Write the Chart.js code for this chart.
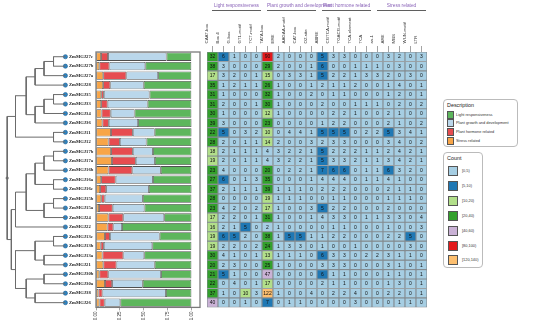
<!DOCTYPE html>
<html><head><meta charset="utf-8">
<script src="https://cdn.jsdelivr.net/npm/chart.js@4.4.0/dist/chart.umd.min.js"></script>
<style>
html,body{margin:0;padding:0;background:#fff;}
#wrap{position:relative;width:550px;height:328px;overflow:hidden;font-family:Arial,"Liberation Sans",sans-serif;}
canvas{position:absolute;top:0;}
.grp{position:absolute;top:3px;color:#8a63b8;font-size:4.8px;line-height:5px;text-align:center;white-space:nowrap;}
.gline{position:absolute;top:9.5px;height:1.5px;background:#5f5f5f;}
.lg{position:absolute;border:0.8px solid #bbb;border-radius:4px;background:#fff;box-sizing:border-box;}
.lgt{position:absolute;font-size:5.4px;color:#222;white-space:nowrap;}
.sw{position:absolute;box-sizing:border-box;border:0.6px solid #555;}
.lbl{position:absolute;font-size:3.9px;color:#333;white-space:nowrap;line-height:4px;}
</style></head>
<body><div id="wrap">
<canvas id="tree" width="70" height="328" style="left:0px;width:70px;height:328px"></canvas>
<canvas id="bars" width="133" height="328" style="left:69px;width:133px;height:328px"></canvas>
<canvas id="heat" width="235" height="328" style="left:200px;width:235px;height:328px"></canvas>
</div>
<script>
const genes = ['ZmMGJ27c','ZmMGJ27b','ZmMGJ27a','ZmMGJ28','ZmMGJ35','ZmMGJ33','ZmMGJ34','ZmMGJ36','ZmMGJ11','ZmMGJ12','ZmMGJ17b','ZmMGJ17a','ZmMGJ16b','ZmMGJ16a','ZmMGJ16c','ZmMGJ15b','ZmMGJ15a','ZmMGJ24','ZmMGJ22','ZmMGJ13c','ZmMGJ13b','ZmMGJ13a','ZmMGJ21','ZmMGJ30b','ZmMGJ30a','ZmMGJ38','ZmMGJ26'];
const motifs = ['CAAT-box','Box 4','G-box','GT1-motif','TCT-motif','TATA-box','ERE','AAGAA-motif','CAT-box','O2-site','ABRE','CGTCA-motif','TGACG-motif','TCA-element','TCA','as-1','ARE','MBS','WUN-motif','LTR'];
const counts = [
 [32,6,1,0,0,90,2,0,0,0,5,3,3,0,0,0,3,2,0,3],
 [38,3,0,0,0,29,2,0,0,1,6,0,0,1,1,1,0,3,0,0],
 [17,3,2,0,1,15,0,3,3,1,5,2,2,1,3,3,2,0,3,0],
 [35,1,2,1,1,26,1,0,0,1,2,1,1,2,0,0,1,4,0,1],
 [31,1,0,0,0,32,1,0,0,2,0,1,1,0,0,0,1,2,0,1],
 [31,2,0,0,1,30,1,0,0,0,2,0,0,1,1,1,0,2,0,2],
 [30,1,0,0,0,12,1,0,0,0,0,2,2,1,0,0,2,1,0,0],
 [39,3,0,0,0,23,0,0,0,0,1,2,2,0,0,0,2,1,0,2],
 [22,5,0,3,2,10,0,4,4,1,5,5,5,0,2,2,5,3,4,1],
 [28,2,0,1,1,14,2,0,0,3,2,3,3,0,0,0,3,4,0,2],
 [18,2,1,1,1,4,3,2,2,1,5,2,2,2,1,1,2,4,2,1],
 [19,2,0,1,1,4,3,2,2,1,5,3,3,2,1,1,3,4,2,1],
 [23,4,0,0,0,20,0,2,2,1,7,6,6,0,1,1,6,3,2,0],
 [27,6,0,1,3,35,0,0,0,1,4,4,4,0,1,1,4,1,0,0],
 [37,2,1,1,1,39,1,1,1,0,2,2,2,0,0,0,2,1,1,0],
 [28,0,0,0,0,19,1,1,1,0,0,1,1,0,0,0,1,1,1,0],
 [23,4,2,0,2,17,1,0,0,3,5,2,2,0,0,0,2,0,0,0],
 [17,2,2,0,1,31,1,0,0,1,4,3,3,0,1,1,3,3,0,4],
 [16,2,1,5,0,2,1,0,0,0,0,1,1,0,0,0,1,0,0,3],
 [19,6,5,2,0,38,1,5,5,1,1,2,2,0,0,0,2,2,5,0],
 [19,2,2,0,2,24,1,3,3,0,1,0,0,1,0,0,0,0,3,0],
 [30,4,1,0,1,13,1,1,1,0,6,3,3,0,2,2,3,1,1,0],
 [20,2,3,0,0,25,1,0,0,0,3,3,3,0,0,0,3,1,0,1],
 [21,5,1,0,0,47,0,0,0,0,6,1,1,0,0,0,1,1,0,1],
 [22,0,4,0,1,17,0,0,0,0,2,1,1,0,0,0,1,3,0,1],
 [37,1,0,10,3,122,1,0,0,4,0,2,2,4,0,0,2,2,0,1],
 [40,0,0,1,0,7,0,1,1,0,0,0,0,3,0,0,0,1,1,0]
];
const stressShare  = [.053,.035,.076,.075,.055,.054,.058,.067,.157,.132,.158,.167,.131,.054,.043,.055,.032,.130,.121,.094,.049,.068,.077,.035,.094,.026,.036];
const hormoneShare = [.073,.106,.242,.075,.027,.068,.096,.067,.229,.118,.228,.250,.250,.152,.064,.036,.143,.156,.061,.052,.033,.219,.138,.094,.075,.042,.055];
const growthShare  = [.613,.376,.333,.350,.479,.419,.250,.307,.229,.279,.211,.200,.298,.391,.447,.400,.333,.429,.091,.521,.508,.219,.400,.553,.321,.665,.164];
const lightShare   = [.260,.482,.348,.500,.438,.459,.596,.560,.386,.471,.404,.383,.321,.402,.447,.509,.492,.286,.727,.333,.410,.493,.385,.318,.509,.267,.745];
const shareTicks = [0, 0.25, 0.5, 0.75, 1];
const descLabels = ['Light responsiveness','Plant growth and development','Plant hormone related','Stress related'];
const descColors = ['#5db65c','#bad7eb','#e64c50','#f8a547'];
const groupNames = ['Light responsiveness','Plant growth and development','Plant hormone related','Stress related'];
const groupFirst = [0,5,10,15];
const groupLast  = [4,9,14,19];
const binLabels = ['[0,5)','[5,10)','[10,20)','[20,40)','[40,60)','[80,100)','[120,140)'];
const binLower  = [0,5,10,20,40,80,120];
const binColors = ['#a6cee3','#1f78b4','#b2df8a','#33a02c','#cab2d6','#e31a1c','#fdbf6f'];
// dendrogram: [node height (0 root .. 1 tips), child, child]; numbers = tip rows, strings = earlier nodes
const treeNodes = [
 [0.80,0,1],[0.64,'n0',2],[0.49,'n1',3],
 [0.80,4,5],[0.64,'n3',6],[0.49,'n4',7],
 [0.34,'n2','n5'],[0.80,8,9],[0.16,'n6','n7'],
 [0.80,10,11],[0.64,'n9',12],[0.80,13,14],[0.49,'n10','n11'],
 [0.80,15,16],[0.64,'n13',17],[0.34,'n12','n14'],[0.16,'n15',18],
 [0.80,19,20],[0.64,21,22],[0.49,'n17','n18'],
 [0.64,23,24],[0.49,25,26],[0.34,'n20','n21'],[0.16,'n19','n22'],
 [0.09,'n16','n23'],[0.02,'n8','n24']
];

Chart.defaults.font.family = 'Arial, "Liberation Sans", sans-serif';
Chart.defaults.animation = false;

function binColor(v){ let k=0; for(let i=0;i<binLower.length;i++){ if(v>=binLower[i]) k=i; } return binColors[k]; }

// ---- tree
const nodePos = {};
const segs = [];
function posOf(ref){ return typeof ref==='number' ? {x:1,y:ref} : nodePos[ref]; }
treeNodes.forEach((nd,i)=>{
  const [h,a,b]=nd; const pa=posOf(a), pb=posOf(b);
  nodePos['n'+i]={x:h,y:(pa.y+pb.y)/2};
  segs.push({x:pa.x,y:pa.y},{x:h,y:pa.y},{x:h,y:pb.y},{x:pb.x,y:pb.y},{x:null,y:null});
});
const rootPos = nodePos['n'+(treeNodes.length-1)];
new Chart(document.getElementById('tree'),{
  type:'scatter',
  data:{datasets:[
    {data:segs,showLine:true,spanGaps:false,borderColor:'#6b6b6b',borderWidth:1,pointRadius:0,clip:false},
    {data:genes.map((g,i)=>({x:1,y:i})),pointRadius:2.1,backgroundColor:'#2f86c4',borderColor:'#1d5d8f',borderWidth:0.6,clip:false},
    {data:[rootPos],pointRadius:1.6,backgroundColor:'#777',borderWidth:0,clip:false}
  ]},
  options:{responsive:false,layout:{padding:{left:6,right:3,top:52,bottom:20.6}},
    plugins:{legend:{display:false},tooltip:{enabled:false}},
    scales:{x:{type:'linear',min:0,max:1,display:false},y:{type:'linear',min:-0.5,max:26.5,reverse:true,display:false}}}
});

// ---- stacked share bars
const frame = {id:'frame',afterDraw(c){const a=c.chartArea,x=c.ctx;x.save();x.strokeStyle='#7a7a7a';x.lineWidth=1.3;x.strokeRect(a.left,a.top,a.right-a.left,a.bottom-a.top);x.restore();}};
const shareSets = [stressShare,hormoneShare,growthShare,lightShare];
new Chart(document.getElementById('bars'),{
  type:'bar',
  data:{labels:genes,datasets:shareSets.map((arr,k)=>({label:descLabels[3-k],data:arr,backgroundColor:descColors[3-k],borderColor:'#505050',borderWidth:0.8,borderSkipped:false,barPercentage:0.88,categoryPercentage:1}))},
  options:{indexAxis:'y',responsive:false,layout:{padding:{top:52,bottom:0,right:2,left:0}},
    plugins:{legend:{display:false},tooltip:{enabled:false}},
    scales:{
      x:{stacked:true,min:0,max:1.09,afterBuildTicks:s=>{s.ticks=shareTicks.map(v=>({value:v}));},
         ticks:{callback:v=>Number(v).toFixed(2),font:{size:4.5},color:'#333',minRotation:90,maxRotation:90,padding:1,autoSkip:false},
         grid:{drawOnChartArea:false,tickLength:3,color:'#666',lineWidth:0.6},border:{display:false},afterFit:s=>{s.height=20.6;}},
      y:{stacked:true,ticks:{font:{size:4.6,family:'"Liberation Serif", serif',weight:'bold'},color:'#222',crossAlign:'far',padding:0,autoSkip:false},
         grid:{display:false},border:{display:false},afterFit:s=>{s.width=27;}}
    }},
  plugins:[frame]
});

// ---- heatmap
const cellText = {id:'cellText',afterDatasetsDraw(c){const ctx=c.ctx;ctx.save();ctx.font='5px Arial, "Liberation Sans", sans-serif';ctx.fillStyle='#111';ctx.textAlign='center';ctx.textBaseline='middle';
  c.data.datasets.forEach((ds,r)=>{c.getDatasetMeta(r).data.forEach((el,i)=>{ctx.fillText(String(counts[r][i]),el.x,(el.y+el.base)/2+0.3);});});ctx.restore();}};
const heat = new Chart(document.getElementById('heat'),{
  type:'bar',
  data:{labels:motifs,datasets:counts.map((row,r)=>({data:row.map(()=>[r-0.5,r+0.5]),backgroundColor:row.map(binColor),borderColor:'#848c91',borderWidth:0.9,borderSkipped:false,grouped:false,barPercentage:1,categoryPercentage:1}))},
  options:{responsive:false,layout:{padding:{left:7,right:8,top:0,bottom:20.6}},
    plugins:{legend:{display:false},tooltip:{enabled:false}},
    scales:{
      x:{position:'top',ticks:{font:{size:4.4},color:'#333',minRotation:90,maxRotation:90,padding:2.5,autoSkip:false},
         grid:{drawOnChartArea:false,offset:false,tickLength:6,color:'#666',lineWidth:0.6},border:{display:false},afterFit:s=>{s.height=52;}},
      y:{type:'linear',min:-0.5,max:26.5,reverse:true,display:false}
    }},
  plugins:[cellText]
});

// ---- group headers (placed from the heatmap's x scale)
const wrap = document.getElementById('wrap');
const xs = heat.scales.x; const cw = xs.width/motifs.length; const off = 200;
groupNames.forEach((g,k)=>{
  const l = off + xs.getPixelForTick(groupFirst[k]) - cw/2 + 5;
  const r = off + xs.getPixelForTick(groupLast[k]) + cw/2 - 1;
  const t = document.createElement('div'); t.className='grp'; t.textContent=g;
  t.style.left=l+'px'; t.style.width=(r-l)+'px'; wrap.appendChild(t);
  const ln = document.createElement('div'); ln.className='gline'; ln.style.left=l+'px'; ln.style.width=(r-l)+'px'; wrap.appendChild(ln);
});

// ---- legends
function legendBox(x,y,w,h,title,labels,colors,sw,sh,step,sx,tx,y0){
  const b=document.createElement('div');b.className='lg';b.style.left=x+'px';b.style.top=y+'px';b.style.width=w+'px';b.style.height=h+'px';wrap.appendChild(b);
  const t=document.createElement('div');t.className='lgt';t.textContent=title;t.style.left=(x+4)+'px';t.style.top=(y+3)+'px';wrap.appendChild(t);
  labels.forEach((lab,i)=>{
    const s=document.createElement('div');s.className='sw';s.style.background=colors[i];
    s.style.left=(x+sx)+'px';s.style.top=(y+y0+i*step)+'px';s.style.width=sw+'px';s.style.height=sh+'px';wrap.appendChild(s);
    const q=document.createElement('div');q.className='lbl';q.textContent=lab;q.style.left=(x+tx)+'px';q.style.top=(y+y0+i*step+sh/2-2)+'px';wrap.appendChild(q);
  });
}
legendBox(443,99,75,48,'Description',descLabels,descColors,7,8,8.7,3.5,13,11.5);
legendBox(443,152,40,116,'Count',binLabels,binColors,10,10,14.9,5,19,14);
</script>
</body></html>
